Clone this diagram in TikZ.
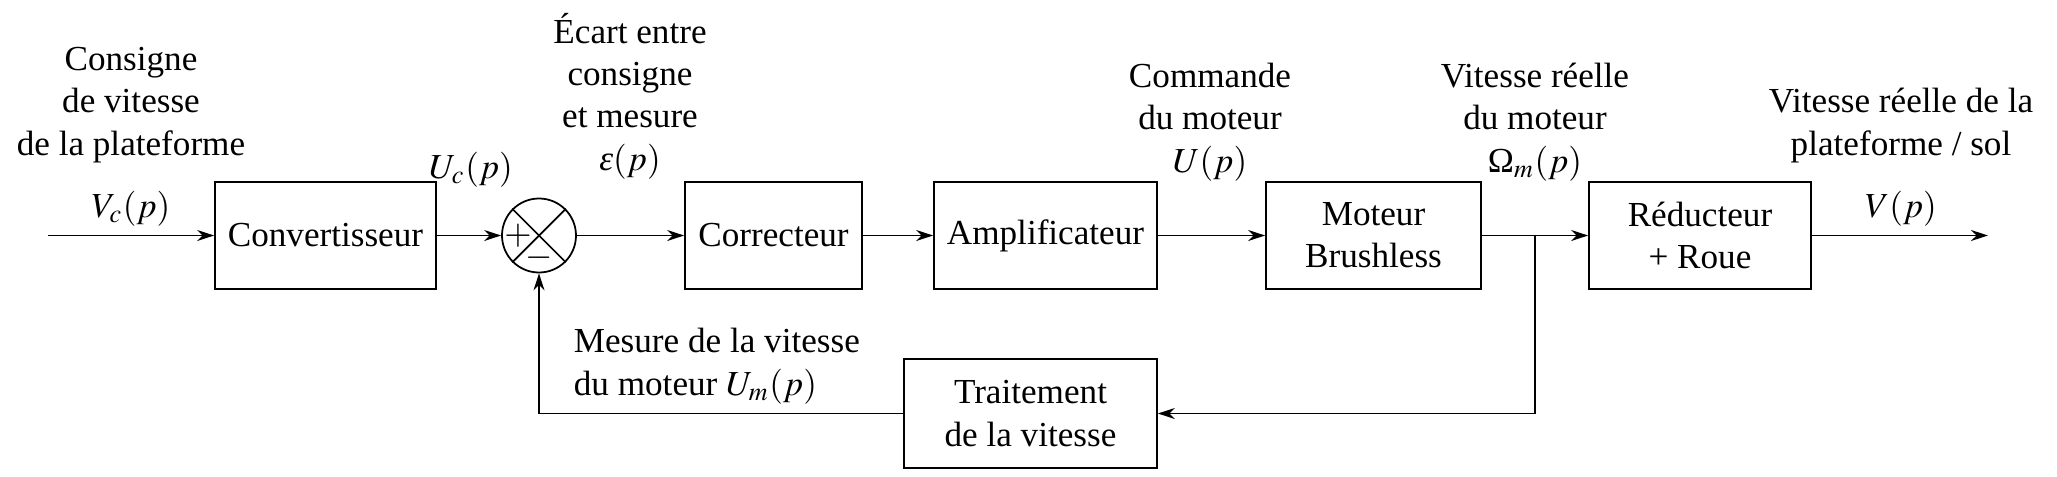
\documentclass[tikz,border=0pt]{standalone}
\usepackage{mathptmx}
\usepackage{fontspec}
\setmainfont{Liberation Serif}
\usetikzlibrary{arrows.meta}

\begin{document}
\begin{tikzpicture}
                [line width=0.5pt,
                  every node/.style={align=center, inner sep=0pt},
                  bloc/.style={draw, minimum height=1.07cm},
                  somme/.style={draw, circle, minimum size=0.74cm},
                  fleche/.style={-{Stealth[length=1.7mm, width=1.1mm]}},
                  etiquette/.style={anchor=base},
                ]
                \useasboundingbox (0,0) rectangle (20.57,-4.76);
                % chaine directe
                \coordinate (entree) at (0.48,-2.355);
                \node [bloc, minimum width=2.21cm] (conv) at (3.255,-2.355) {Convertisseur};
                \node [somme] (sum) at (5.39,-2.355) {};
                \node [bloc, minimum width=1.77cm] (corr) at (7.735,-2.355) {Correcteur};
                \node [bloc, minimum width=2.23cm] (ampli) at (10.455,-2.355) {Amplificateur};
                \node [bloc, minimum width=2.15cm] (moteur) at (13.735,-2.355) {Moteur\\Brushless};
                \node [bloc, minimum width=2.22cm] (reduc) at (17.00,-2.355) {Réducteur\\+ Roue};
                \coordinate (sortie) at (19.88,-2.355);
                % retour
                \node [bloc, minimum width=2.53cm, minimum height=1.09cm] (trait) at (10.305,-4.135) {Traitement\\de la vitesse};
                \coordinate (branche) at (15.35,-2.355);
                \coordinate (coinD) at (15.35,-4.135);
                \coordinate (coinG) at (5.39,-4.135);
                % comparateur
                \draw (sum.north west) -- (sum.south east);
                \draw (sum.north east) -- (sum.south west);
                \node (plus) at ([xshift=-2.1mm]sum.center) {$+$};
                \node (moins) at ([yshift=-2.2mm]sum.center) {$-$};
                % liaisons
                \draw [fleche] (entree) -- (conv);
                \draw [fleche] (conv) -- (sum);
                \draw [fleche] (sum) -- (corr);
                \draw [fleche] (corr) -- (ampli);
                \draw [fleche] (ampli) -- (moteur);
                \draw [fleche] (moteur) -- (reduc);
                \draw [fleche] (reduc) -- (sortie);
                \draw [fleche] (branche) -- (coinD) -- (trait);
                \draw [fleche] (trait) -- (coinG) -- (sum);
                % textes
                \node [etiquette] (consigne) at (1.31,-1.55) {Consigne\\de vitesse\\de la plateforme};
                \node [etiquette] (vc) at (1.31,-2.17) {$V_c(p)$};
                \node [etiquette] (uc) at (4.71,-1.78) {$U_c(p)$};
                \node [etiquette] (ecart) at (6.30,-1.70) {Écart entre\\consigne\\et mesure\\\textit{ε}$(p)$};
                \node [etiquette] (commande) at (12.10,-1.72) {Commande\\du moteur\\$U(p)$};
                \node [etiquette] (vmoteur) at (15.35,-1.72) {Vitesse réelle\\du moteur\\Ω$_m(p)$};
                \node [etiquette] (vplateforme) at (19.01,-1.55) {Vitesse réelle de la\\plateforme / sol};
                \node [etiquette] (v) at (19.01,-2.17) {$V(p)$};
                \node [etiquette, anchor=base west, align=left] (mesure) at (5.73,-3.95) {Mesure de la vitesse\\du moteur $U_m(p)$};
            \end{tikzpicture}
\end{document}
